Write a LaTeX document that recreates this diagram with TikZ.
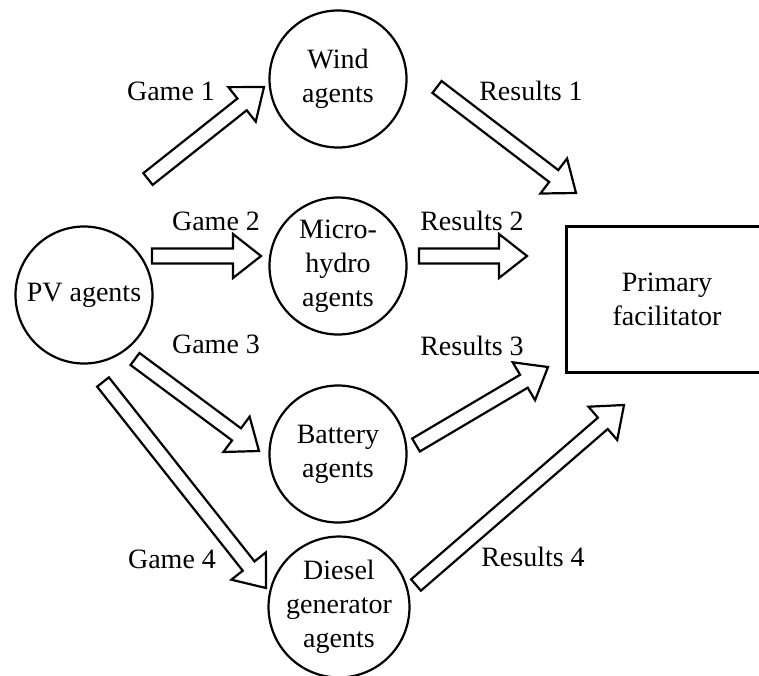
\documentclass[tikz,border=0pt]{standalone}
\usepackage{fontspec}
\setmainfont{Liberation Serif}
\usetikzlibrary{calc}
\newcommand\blockarr[2]{%
  \draw[arrline] let \p1=($(#2)!28pt!(#1)$) in
    ($(#1)!7.5pt!90:(#2)$) -- ($(\p1)!7.5pt!90:(#2)$) -- ($(\p1)!22pt!90:(#2)$) -- (#2)
    -- ($(\p1)!22pt!-90:(#2)$) -- ($(\p1)!7.5pt!-90:(#2)$) -- ($(#1)!7.5pt!-90:(#2)$) -- cycle;}
\begin{document}
\begin{tikzpicture}[x=1pt,y=-1pt, font=\fontsize{28}{34}\selectfont,
  agent/.style={circle, draw, line width=2.2pt, minimum size=137pt, inner sep=0pt, align=center},
  facil/.style={draw, line width=3pt, minimum width=202pt, minimum height=146pt, inner sep=0pt, align=center},
  lbl/.style={inner sep=0pt},
  arrline/.style={line width=2.2pt, line join=miter}]
\useasboundingbox (0,0) rectangle (759,675);
\clip (0,0) rectangle (759,675);

\node[agent] (pv) at (84,295) {PV agents};
\node[agent] (wind) at (338,79) {Wind\\agents};
\node[agent] (hydro) at (338,266) {Micro-\\hydro\\agents};
\node[agent] (batt) at (338,454) {Battery\\agents};
\node[agent] (diesel) at (339,607) {Diesel\\generator\\agents};
\node[facil] (pf) at (667,299) {Primary\\facilitator};

\coordinate (g1a) at (148,179); \coordinate (g1b) at (264,87);
\coordinate (g2a) at (152,256); \coordinate (g2b) at (261,256);
\coordinate (g3a) at (135,359); \coordinate (g3b) at (259,451);
\coordinate (g4a) at (103,382); \coordinate (g4b) at (266,588);
\coordinate (r1a) at (437,87);  \coordinate (r1b) at (576,193);
\coordinate (r2a) at (419,256); \coordinate (r2b) at (527,256);
\coordinate (r3a) at (416,445); \coordinate (r3b) at (548,367);
\coordinate (r4a) at (416,585); \coordinate (r4b) at (624,405);

\blockarr{g1a}{g1b}
\blockarr{g2a}{g2b}
\blockarr{g3a}{g3b}
\blockarr{g4a}{g4b}
\blockarr{r1a}{r1b}
\blockarr{r2a}{r2b}
\blockarr{r3a}{r3b}
\blockarr{r4a}{r4b}

\node[lbl] (t1) at (171,91) {Game 1};
\node[lbl] (t2) at (216,221) {Game 2};
\node[lbl] (t3) at (216,344) {Game 3};
\node[lbl] (t4) at (172,559) {Game 4};
\node[lbl] (s1) at (531,91) {Results 1};
\node[lbl] (s2) at (472,221) {Results 2};
\node[lbl] (s3) at (472,346) {Results 3};
\node[lbl] (s4) at (533,557) {Results 4};
\end{tikzpicture}
\end{document}
